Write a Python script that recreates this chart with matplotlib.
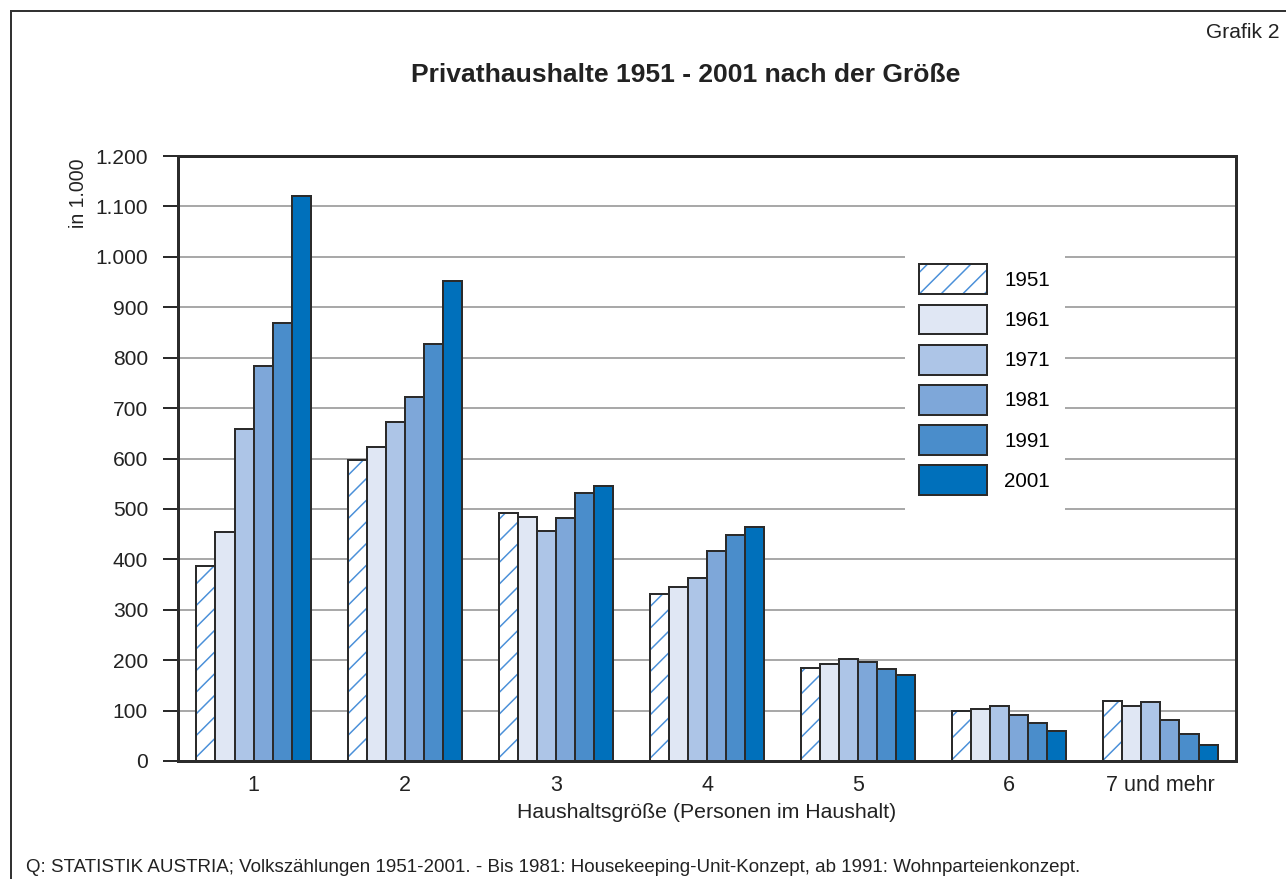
import matplotlib
matplotlib.use("Agg")
import matplotlib.pyplot as plt
import numpy as np
from matplotlib.patches import Patch
from matplotlib.lines import Line2D

# Haushaltsgroesse und Volkszaehlungsjahre
sizes = ["1", "2", "3", "4", "5", "6", "7 und mehr"]
years = ["1951", "1961", "1971", "1981", "1991", "2001"]

# Privathaushalte in 1.000
v1951 = [387, 598, 491, 331, 184, 100, 119]
v1961 = [455, 623, 483, 346, 192, 104, 110]
v1971 = [658, 672, 456, 362, 203, 110, 117]
v1981 = [783, 721, 482, 417, 196, 92, 81]
v1991 = [869, 828, 531, 449, 183, 76, 54]
v2001 = [1120, 953, 546, 465, 171, 60, 32]

yticks = list(range(0, 1201, 100))

colors = ["white", "#e0e7f4", "#adc5e7", "#7ea7d9", "#4a8dcb", "#0070bb"]
hatch_col = "#4a90d9"
edge = "#2b2b2b"

dpi = 130
W, H = 1286, 879


def pt(p):
    # pixel -> points
    return p * 72 / dpi


plt.rcParams["font.family"] = ["Liberation Sans", "DejaVu Sans"]
plt.rcParams["hatch.linewidth"] = pt(1.5)

fig = plt.figure(figsize=(W / dpi, H / dpi), dpi=dpi)
ax = fig.add_axes([178 / W, 1 - 761 / H, (1236 - 178) / W, (761 - 156) / H])

x = np.arange(len(sizes))
w = 0.126
series = [v1951, v1961, v1971, v1981, v1991, v2001]
for i, vals in enumerate(series):
    pos = x + (i - 2.5) * w
    if i == 0:
        ax.bar(pos, vals, w, color="white", edgecolor=hatch_col, hatch="//",
               linewidth=0, zorder=2)
        ax.bar(pos, vals, w, fill=False, edgecolor=edge, linewidth=pt(2), zorder=3)
    else:
        ax.bar(pos, vals, w, color=colors[i], edgecolor=edge, linewidth=pt(2), zorder=3)

ax.set_xlim(-0.5, 6.5)
ax.set_ylim(0, 1200)
ax.set_xticks(x)
ax.set_xticklabels(sizes)
ax.set_yticks(yticks)
ax.set_yticklabels([f"{v:,}".replace(",", ".") for v in yticks])
ax.yaxis.grid(True, color="#a9a9a9", linewidth=pt(2))
ax.set_axisbelow(True)
ax.tick_params(axis="y", length=pt(15), width=pt(2), pad=pt(15),
               labelsize=pt(21), color=edge, labelcolor="#222222")
ax.tick_params(axis="x", length=0, pad=pt(14), labelsize=pt(21.5), labelcolor="#222222")
for s in ax.spines.values():
    s.set_linewidth(pt(3))
    s.set_color(edge)

# Legende
handles = [(Patch(facecolor="white", edgecolor=hatch_col, hatch="//", linewidth=0),
            Patch(facecolor="none", edgecolor=edge, linewidth=pt(2)))]
handles += [Patch(facecolor=c, edgecolor=edge, linewidth=pt(2)) for c in colors[1:]]
ax.legend(handles, years, loc="upper left", bbox_to_anchor=(905 / W, 1 - 250 / H),
          bbox_transform=fig.transFigure, borderaxespad=0, fancybox=False,
          edgecolor="none", facecolor="white", framealpha=1, fontsize=pt(20.5),
          handlelength=3.3, handleheight=1.87, labelspacing=0.5,
          handletextpad=0.85, borderpad=0.7)

# Texte
fig.text(686 / W, 1 - 75 / H, "Privathaushalte 1951 - 2001 nach der Größe",
         ha="center", va="center", fontsize=pt(26.5), fontweight="bold", color="#222222")
fig.text(1280 / W, 1 - 33 / H, "Grafik 2", ha="right", va="center",
         fontsize=pt(21), color="#222222")
fig.text(78 / W, 1 - 158 / H, "in 1.000", rotation=90, ha="center", va="top",
         fontsize=pt(19.5), color="#222222")
fig.text(707 / W, 1 - 812 / H, "Haushaltsgröße (Personen im Haushalt)",
         ha="center", va="center", fontsize=pt(21.2), color="#222222")
fig.text(26 / W, 1 - 867 / H,
         "Q: STATISTIK AUSTRIA; Volkszählungen 1951-2001. - Bis 1981: "
         "Housekeeping-Unit-Konzept, ab 1991: Wohnparteienkonzept.",
         ha="left", va="center", fontsize=pt(18.75), color="#222222")

# Rahmen
fig.add_artist(Line2D([11 / W, 11 / W], [0, 1 - 11 / H], transform=fig.transFigure,
                      color="#333333", linewidth=pt(2)))
fig.add_artist(Line2D([11 / W, 1], [1 - 11 / H, 1 - 11 / H], transform=fig.transFigure,
                      color="#333333", linewidth=pt(2)))

fig.savefig("out.png", dpi=dpi)
